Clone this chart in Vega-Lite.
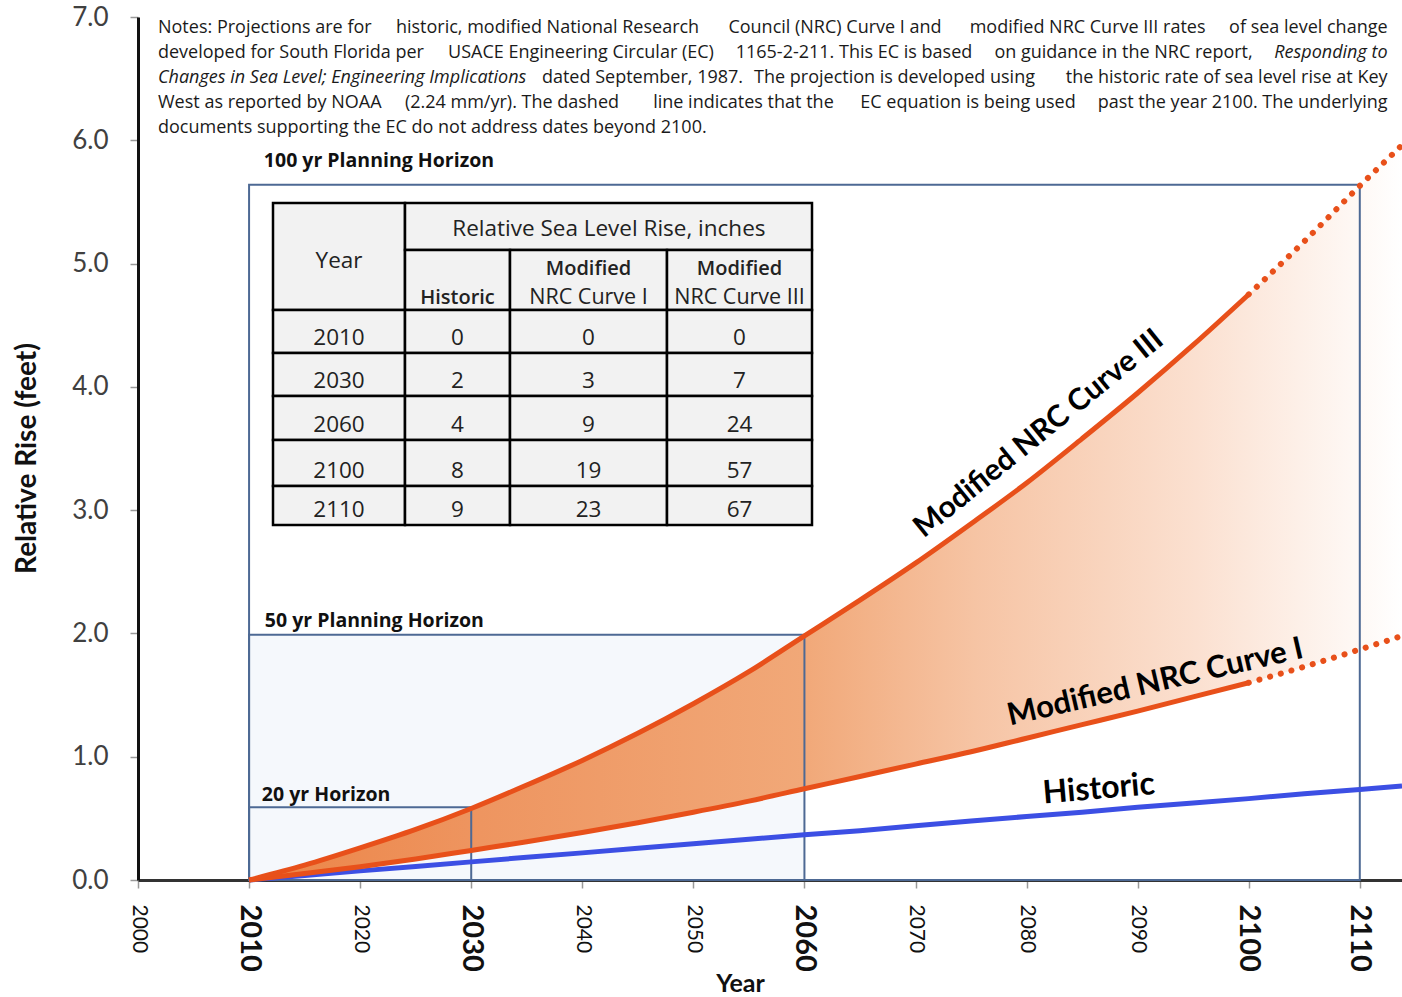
{
  "$schema": "https://vega.github.io/schema/vega-lite/v6.json",
  "width": 1264,
  "height": 863,
  "autosize": {"type": "none"},
  "padding": {"left": 138, "top": 17, "right": 0, "bottom": 117},
  "background": "white",
  "config": {"view": {"stroke": null}, "font": "Lato", "text": {"font": "Lato"}},
  "datasets": {
    "curves": [
      {"year": 2010, "hist": 0, "c1": 0, "c3": 0},
      {"year": 2015, "hist": 0.037, "c1": 0.052, "c3": 0.12},
      {"year": 2020, "hist": 0.074, "c1": 0.108, "c3": 0.26},
      {"year": 2025, "hist": 0.11, "c1": 0.17, "c3": 0.41},
      {"year": 2030, "hist": 0.147, "c1": 0.24, "c3": 0.58},
      {"year": 2035, "hist": 0.184, "c1": 0.31, "c3": 0.77},
      {"year": 2040, "hist": 0.22, "c1": 0.385, "c3": 0.97},
      {"year": 2045, "hist": 0.257, "c1": 0.465, "c3": 1.19},
      {"year": 2050, "hist": 0.294, "c1": 0.55, "c3": 1.43},
      {"year": 2055, "hist": 0.33, "c1": 0.64, "c3": 1.69},
      {"year": 2060, "hist": 0.367, "c1": 0.74, "c3": 1.98},
      {"year": 2065, "hist": 0.40, "c1": 0.84, "c3": 2.27},
      {"year": 2070, "hist": 0.44, "c1": 0.94, "c3": 2.57},
      {"year": 2075, "hist": 0.478, "c1": 1.04, "c3": 2.89},
      {"year": 2080, "hist": 0.515, "c1": 1.15, "c3": 3.22},
      {"year": 2085, "hist": 0.55, "c1": 1.26, "c3": 3.58},
      {"year": 2090, "hist": 0.59, "c1": 1.37, "c3": 3.95},
      {"year": 2095, "hist": 0.625, "c1": 1.485, "c3": 4.34},
      {"year": 2100, "hist": 0.66, "c1": 1.60, "c3": 4.75},
      {"year": 2105, "hist": 0.70, "c1": 1.73, "c3": 5.18},
      {"year": 2110, "hist": 0.735, "c1": 1.87, "c3": 5.63},
      {"year": 2113.8, "hist": 0.763, "c1": 1.98, "c3": 5.96}
    ],
    "boxes": [
      {"name": "100", "x0": 2010, "x1": 2110, "y0": 0, "y1": 5.64},
      {"name": "50", "x0": 2010, "x1": 2060, "y0": 0, "y1": 1.99},
      {"name": "20", "x0": 2010, "x1": 2030, "y0": 0, "y1": 0.59}
    ],
    "horizonLabels": [
      {"text": "100 yr Planning Horizon", "x": 2011.33, "y": 5.83},
      {"text": "50 yr Planning Horizon", "x": 2011.42, "y": 2.10},
      {"text": "20 yr Horizon", "x": 2011.15, "y": 0.69}
    ],
    "curveLabels": [
      {"name": "c3", "text": "Modified NRC Curve III", "x": 2081.1, "y": 3.62},
      {"name": "c1", "text": "Modified NRC Curve I", "x": 2091.6, "y": 1.60},
      {"name": "hist", "text": "Historic", "x": 2086.5, "y": 0.74}
    ],
    "notes": [
      {"seg": "L", "x": 2001.8, "y": 6.91, "text": "Notes: Projections are for"},
      {"seg": "C", "x": 2036.87, "y": 6.91, "text": "historic, modified National Research"},
      {"seg": "C", "x": 2062.75, "y": 6.91, "text": "Council (NRC) Curve I and"},
      {"seg": "C", "x": 2085.49, "y": 6.91, "text": "modified NRC Curve III rates"},
      {"seg": "R", "x": 2112.5, "y": 6.91, "text": "of sea level change"},
      {"seg": "L", "x": 2001.8, "y": 6.707, "text": "developed for South Florida  per"},
      {"seg": "C", "x": 2039.88, "y": 6.707, "text": "USACE Engineering Circular (EC)"},
      {"seg": "C", "x": 2064.46, "y": 6.707, "text": "1165-2-211. This EC is based"},
      {"seg": "C", "x": 2088.73, "y": 6.707, "text": "on guidance in the NRC report,"},
      {"seg": "RI", "x": 2112.5, "y": 6.707, "text": "Responding to"},
      {"seg": "LI", "x": 2001.8, "y": 6.504, "text": "Changes in Sea Level; Engineering Implications"},
      {"seg": "C", "x": 2045.42, "y": 6.504, "text": "dated September, 1987."},
      {"seg": "C", "x": 2068.11, "y": 6.504, "text": "The projection is  developed using"},
      {"seg": "R", "x": 2112.5, "y": 6.504, "text": "the historic rate of sea level rise at Key"},
      {"seg": "L", "x": 2001.8, "y": 6.302, "text": "West as reported by NOAA"},
      {"seg": "C", "x": 2033.67, "y": 6.302, "text": "(2.24 mm/yr). The dashed"},
      {"seg": "C", "x": 2054.51, "y": 6.302, "text": "line indicates that the"},
      {"seg": "C", "x": 2074.73, "y": 6.302, "text": "EC equation is being used"},
      {"seg": "R", "x": 2112.5, "y": 6.302, "text": "past the year 2100. The underlying"},
      {"seg": "L", "x": 2001.8, "y": 6.099, "text": "documents supporting the EC do not address dates beyond 2100."}
    ],
    "tableCells": [
      {"c0": 0, "c1": 1, "r0": 0, "r1": 2},
      {"c0": 1, "c1": 4, "r0": 0, "r1": 1},
      {"c0": 1, "c1": 2, "r0": 1, "r1": 2},
      {"c0": 2, "c1": 3, "r0": 1, "r1": 2},
      {"c0": 3, "c1": 4, "r0": 1, "r1": 2},
      {"c0": 0, "c1": 1, "r0": 2, "r1": 3}, {"c0": 1, "c1": 2, "r0": 2, "r1": 3}, {"c0": 2, "c1": 3, "r0": 2, "r1": 3}, {"c0": 3, "c1": 4, "r0": 2, "r1": 3},
      {"c0": 0, "c1": 1, "r0": 3, "r1": 4}, {"c0": 1, "c1": 2, "r0": 3, "r1": 4}, {"c0": 2, "c1": 3, "r0": 3, "r1": 4}, {"c0": 3, "c1": 4, "r0": 3, "r1": 4},
      {"c0": 0, "c1": 1, "r0": 4, "r1": 5}, {"c0": 1, "c1": 2, "r0": 4, "r1": 5}, {"c0": 2, "c1": 3, "r0": 4, "r1": 5}, {"c0": 3, "c1": 4, "r0": 4, "r1": 5},
      {"c0": 0, "c1": 1, "r0": 5, "r1": 6}, {"c0": 1, "c1": 2, "r0": 5, "r1": 6}, {"c0": 2, "c1": 3, "r0": 5, "r1": 6}, {"c0": 3, "c1": 4, "r0": 5, "r1": 6},
      {"c0": 0, "c1": 1, "r0": 6, "r1": 7}, {"c0": 1, "c1": 2, "r0": 6, "r1": 7}, {"c0": 2, "c1": 3, "r0": 6, "r1": 7}, {"c0": 3, "c1": 4, "r0": 6, "r1": 7}
    ],
    "tableText": [
      {"role": "head", "tx": 0.5, "ty": 1.18, "t": "Year"},
      {"role": "head", "tx": 2.63, "ty": 0.55, "t": "Relative Sea Level Rise, inches"},
      {"role": "sub", "tx": 1.5, "ty": 1.8, "t": "Historic"},
      {"role": "sub", "tx": 2.5, "ty": 1.32, "t": "Modified"},
      {"role": "hsmall", "tx": 2.5, "ty": 1.8, "t": "NRC Curve I"},
      {"role": "sub", "tx": 3.5, "ty": 1.32, "t": "Modified"},
      {"role": "hsmall", "tx": 3.5, "ty": 1.8, "t": "NRC Curve III"},
      {"role": "num", "tx": 0.5, "ty": 2.66, "t": "2010"}, {"role": "num", "tx": 1.5, "ty": 2.66, "t": "0"}, {"role": "num", "tx": 2.5, "ty": 2.66, "t": "0"}, {"role": "num", "tx": 3.5, "ty": 2.66, "t": "0"},
      {"role": "num", "tx": 0.5, "ty": 3.66, "t": "2030"}, {"role": "num", "tx": 1.5, "ty": 3.66, "t": "2"}, {"role": "num", "tx": 2.5, "ty": 3.66, "t": "3"}, {"role": "num", "tx": 3.5, "ty": 3.66, "t": "7"},
      {"role": "num", "tx": 0.5, "ty": 4.66, "t": "2060"}, {"role": "num", "tx": 1.5, "ty": 4.66, "t": "4"}, {"role": "num", "tx": 2.5, "ty": 4.66, "t": "9"}, {"role": "num", "tx": 3.5, "ty": 4.66, "t": "24"},
      {"role": "num", "tx": 0.5, "ty": 5.67, "t": "2100"}, {"role": "num", "tx": 1.5, "ty": 5.67, "t": "8"}, {"role": "num", "tx": 2.5, "ty": 5.67, "t": "19"}, {"role": "num", "tx": 3.5, "ty": 5.67, "t": "57"},
      {"role": "num", "tx": 0.5, "ty": 6.62, "t": "2110"}, {"role": "num", "tx": 1.5, "ty": 6.62, "t": "9"}, {"role": "num", "tx": 2.5, "ty": 6.62, "t": "23"}, {"role": "num", "tx": 3.5, "ty": 6.62, "t": "67"}
    ]
  },
  "layer": [
    {
      "layer": [
        {
          "data": {"name": "boxes"},
          "transform": [{"filter": "datum.name != '100'"}],
          "mark": {"type": "rect", "fill": "#f5f8fc", "stroke": null},
          "encoding": {
            "x": {"field": "x0", "type": "quantitative", "scale": {"domain": [2000, 2113.8], "nice": false, "zero": false},
              "axis": {
                "values": [2000, 2010, 2020, 2030, 2040, 2050, 2060, 2070, 2080, 2090, 2100, 2110],
                "format": "d",
                "labelAngle": 90, "labelAlign": "left", "labelBaseline": "middle",
                "labelFontSize": {"condition": {"test": "indexof([2010,2030,2060,2100,2110], datum.value) >= 0", "value": 29}, "value": 21},
                "labelFontWeight": {"condition": {"test": "indexof([2010,2030,2060,2100,2110], datum.value) >= 0", "value": "bold"}, "value": "normal"},
                "labelColor": "#111",
                "labelPadding": 16, "labelFlush": false, "labelOverlap": false,
                "tickSize": 8, "tickColor": "#999", "tickWidth": 1.5,
                "domainColor": "#333", "domainWidth": 3,
                "grid": false,
                "title": "Year", "titleFontSize": 25, "titleFontWeight": "bold", "titleColor": "#111",
                "titleX": 602, "titleY": 103, "titleBaseline": "middle", "titleAlign": "center"
              }},
            "x2": {"field": "x1"},
            "y": {"field": "y0", "type": "quantitative", "scale": {"domain": [0, 7], "nice": false, "zero": true},
              "axis": {
                "values": [0, 1, 2, 3, 4, 5, 6, 7],
                "format": ".1f",
                "labelFontSize": 26, "labelColor": "#404040", "labelPadding": 22,
                "tickSize": 8, "tickColor": "#999", "tickWidth": 1.5,
                "domainColor": "#111", "domainWidth": 3,
                "grid": false,
                "title": "Relative Rise (feet)", "titleFontSize": 28, "titleFontWeight": "bold", "titleColor": "#111",
                "titleX": -111, "titleY": 441, "titleAngle": -90, "titleBaseline": "middle", "titleAlign": "center"
              }},
            "y2": {"field": "y1"}
          }
        },
        {
          "data": {"name": "curves"},
          "mark": {"type": "area", "interpolate": "monotone",
            "fill": {"gradient": "linear", "x1": 0, "y1": 0, "x2": 1, "y2": 0,
              "stops": [
                {"offset": 0, "color": "#ec8446"},
                {"offset": 0.2, "color": "#ee9560"},
                {"offset": 0.48, "color": "#f1a878"},
                {"offset": 0.63, "color": "#f6c4a4"},
                {"offset": 0.82, "color": "#fbe0d0"},
                {"offset": 1, "color": "#ffffff"}
              ]}},
          "encoding": {
            "x": {"field": "year", "type": "quantitative"},
            "y": {"field": "c3", "type": "quantitative"},
            "y2": {"field": "c1"}
          }
        },
        {
          "data": {"name": "boxes"},
          "mark": {"type": "rect", "filled": false, "stroke": "#4d6994", "strokeWidth": 2},
          "encoding": {
            "x": {"field": "x0", "type": "quantitative"},
            "x2": {"field": "x1"},
            "y": {"field": "y0", "type": "quantitative"},
            "y2": {"field": "y1"}
          }
        },
        {
          "mark": {"type": "rule", "color": "#111", "strokeWidth": 3},
          "encoding": {"y": {"datum": 7, "type": "quantitative"}}
        },
        {
          "data": {"name": "curves"},
          "mark": {"type": "line", "color": "#3c4fe4", "strokeWidth": 5},
          "encoding": {
            "x": {"field": "year", "type": "quantitative"},
            "y": {"field": "hist", "type": "quantitative"}
          }
        },
        {
          "data": {"name": "curves"},
          "transform": [{"filter": "datum.year <= 2100"}],
          "mark": {"type": "line", "color": "#e8501a", "strokeWidth": 5, "interpolate": "monotone"},
          "encoding": {
            "x": {"field": "year", "type": "quantitative"},
            "y": {"field": "c1", "type": "quantitative"}
          }
        },
        {
          "data": {"name": "curves"},
          "transform": [{"filter": "datum.year <= 2100"}],
          "mark": {"type": "line", "color": "#e8501a", "strokeWidth": 5, "interpolate": "monotone"},
          "encoding": {
            "x": {"field": "year", "type": "quantitative"},
            "y": {"field": "c3", "type": "quantitative"}
          }
        },
        {
          "data": {"name": "curves"},
          "transform": [{"filter": "datum.year >= 2100"}],
          "mark": {"type": "line", "color": "#e8501a", "strokeWidth": 6, "strokeCap": "round", "strokeDash": [0.1, 11], "interpolate": "monotone"},
          "encoding": {
            "x": {"field": "year", "type": "quantitative"},
            "y": {"field": "c1", "type": "quantitative"}
          }
        },
        {
          "data": {"name": "curves"},
          "transform": [{"filter": "datum.year >= 2100"}],
          "mark": {"type": "line", "color": "#e8501a", "strokeWidth": 6, "strokeCap": "round", "strokeDash": [0.1, 11], "interpolate": "monotone"},
          "encoding": {
            "x": {"field": "year", "type": "quantitative"},
            "y": {"field": "c3", "type": "quantitative"}
          }
        },
        {
          "data": {"name": "horizonLabels"},
          "mark": {"type": "text", "align": "left", "baseline": "middle", "font": "Open Sans", "fontSize": 19.5, "fontWeight": "bold", "color": "#111"},
          "encoding": {
            "x": {"field": "x", "type": "quantitative"},
            "y": {"field": "y", "type": "quantitative"},
            "text": {"field": "text"}
          }
        },
        {
          "data": {"name": "curveLabels"},
          "transform": [{"filter": "datum.name == 'c3'"}],
          "mark": {"type": "text", "align": "center", "baseline": "middle", "fontSize": 30, "fontWeight": "bold", "color": "#000", "angle": -39},
          "encoding": {
            "x": {"field": "x", "type": "quantitative"},
            "y": {"field": "y", "type": "quantitative"},
            "text": {"field": "text"}
          }
        },
        {
          "data": {"name": "curveLabels"},
          "transform": [{"filter": "datum.name == 'c1'"}],
          "mark": {"type": "text", "align": "center", "baseline": "middle", "fontSize": 31, "fontWeight": "bold", "color": "#000", "angle": -13},
          "encoding": {
            "x": {"field": "x", "type": "quantitative"},
            "y": {"field": "y", "type": "quantitative"},
            "text": {"field": "text"}
          }
        },
        {
          "data": {"name": "curveLabels"},
          "transform": [{"filter": "datum.name == 'hist'"}],
          "mark": {"type": "text", "align": "center", "baseline": "middle", "fontSize": 32, "fontWeight": "bold", "color": "#000", "angle": -5},
          "encoding": {
            "x": {"field": "x", "type": "quantitative"},
            "y": {"field": "y", "type": "quantitative"},
            "text": {"field": "text"}
          }
        },
        {
          "data": {"name": "notes"},
          "transform": [{"filter": "datum.seg == 'L'"}],
          "mark": {"type": "text", "align": "left", "baseline": "middle", "font": "Open Sans", "fontSize": 18, "color": "#1a1a1a"},
          "encoding": {
            "x": {"field": "x", "type": "quantitative"},
            "y": {"field": "y", "type": "quantitative"},
            "text": {"field": "text"}
          }
        },
        {
          "data": {"name": "notes"},
          "transform": [{"filter": "datum.seg == 'C'"}],
          "mark": {"type": "text", "align": "center", "baseline": "middle", "font": "Open Sans", "fontSize": 18, "color": "#1a1a1a"},
          "encoding": {
            "x": {"field": "x", "type": "quantitative"},
            "y": {"field": "y", "type": "quantitative"},
            "text": {"field": "text"}
          }
        },
        {
          "data": {"name": "notes"},
          "transform": [{"filter": "datum.seg == 'R'"}],
          "mark": {"type": "text", "align": "right", "baseline": "middle", "font": "Open Sans", "fontSize": 18, "color": "#1a1a1a"},
          "encoding": {
            "x": {"field": "x", "type": "quantitative"},
            "y": {"field": "y", "type": "quantitative"},
            "text": {"field": "text"}
          }
        },
        {
          "data": {"name": "notes"},
          "transform": [{"filter": "datum.seg == 'LI'"}],
          "mark": {"type": "text", "align": "left", "baseline": "middle", "font": "Open Sans", "fontSize": 18, "fontStyle": "italic", "color": "#1a1a1a"},
          "encoding": {
            "x": {"field": "x", "type": "quantitative"},
            "y": {"field": "y", "type": "quantitative"},
            "text": {"field": "text"}
          }
        },
        {
          "data": {"name": "notes"},
          "transform": [{"filter": "datum.seg == 'RI'"}],
          "mark": {"type": "text", "align": "right", "baseline": "middle", "font": "Open Sans", "fontSize": 18, "fontStyle": "italic", "color": "#1a1a1a"},
          "encoding": {
            "x": {"field": "x", "type": "quantitative"},
            "y": {"field": "y", "type": "quantitative"},
            "text": {"field": "text"}
          }
        }
      ]
    },
    {
      "layer": [
        {
          "data": {"name": "tableCells"},
          "mark": {"type": "rect", "fill": "#f2f2f2", "stroke": "#000", "strokeWidth": 2.5},
          "encoding": {
            "x": {"field": "c0", "type": "quantitative", "axis": null,
              "scale": {"domain": [0, 1, 2, 3, 4], "range": [135, 267, 372, 529, 674], "nice": false, "zero": false}},
            "x2": {"field": "c1"},
            "y": {"field": "r0", "type": "quantitative", "axis": null,
              "scale": {"domain": [0, 1, 2, 3, 4, 5, 6, 7], "range": [186, 233, 293, 336, 379, 423, 469, 508], "nice": false, "zero": false}},
            "y2": {"field": "r1"}
          }
        },
        {
          "data": {"name": "tableText"},
          "transform": [{"filter": "datum.role == 'head' || datum.role == 'num'"}],
          "mark": {"type": "text", "align": "center", "baseline": "middle", "font": "Open Sans", "fontSize": 22.5, "color": "#222"},
          "encoding": {
            "x": {"field": "tx", "type": "quantitative"},
            "y": {"field": "ty", "type": "quantitative"},
            "text": {"field": "t"}
          }
        },
        {
          "data": {"name": "tableText"},
          "transform": [{"filter": "datum.role == 'hsmall'"}],
          "mark": {"type": "text", "align": "center", "baseline": "middle", "font": "Open Sans", "fontSize": 21.5, "color": "#222"},
          "encoding": {
            "x": {"field": "tx", "type": "quantitative"},
            "y": {"field": "ty", "type": "quantitative"},
            "text": {"field": "t"}
          }
        },
        {
          "data": {"name": "tableText"},
          "transform": [{"filter": "datum.role == 'sub'"}],
          "mark": {"type": "text", "align": "center", "baseline": "middle", "font": "Open Sans", "fontSize": 20, "fontWeight": 600, "color": "#222"},
          "encoding": {
            "x": {"field": "tx", "type": "quantitative"},
            "y": {"field": "ty", "type": "quantitative"},
            "text": {"field": "t"}
          }
        }
      ]
    }
  ],
  "resolve": {"scale": {"x": "independent", "y": "independent"}}
}
